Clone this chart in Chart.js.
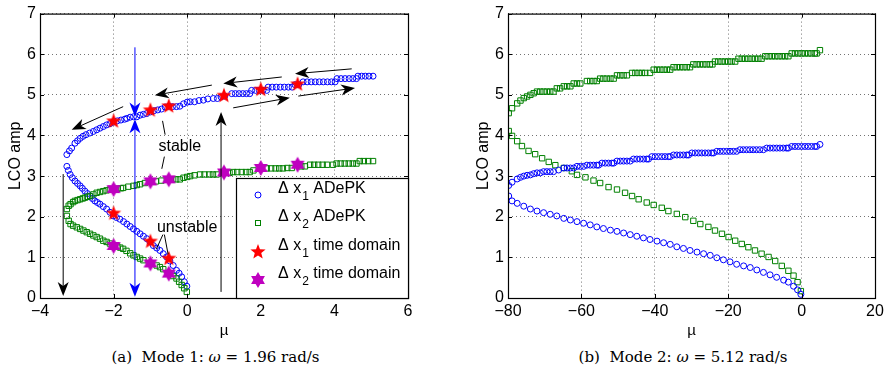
<!DOCTYPE html>
<html>
<head>
<meta charset="utf-8">
<script src="https://cdn.jsdelivr.net/npm/chart.js@4/dist/chart.umd.min.js"></script>
<style>
  body { margin: 0; background: #fff; width: 888px; height: 379px; position: relative; overflow: hidden; }
  .box { position: absolute; top: 0; height: 340px; }
  .cap { position: absolute; top: 348px; font: 15px 'DejaVu Serif', 'Liberation Serif', serif; line-height: 18px; text-align: center; white-space: nowrap; }
</style>
</head>
<body>
<div class="box" style="left:0;width:420px"><canvas id="modeA" width="420" height="340"></canvas></div>
<div class="box" style="left:440px;width:448px"><canvas id="modeB" width="448" height="340"></canvas></div>
<div class="cap" style="left:0;width:431px">(a)&nbsp; Mode 1: <i>ω</i> = 1.96 rad/s</div>
<div class="cap" style="left:455px;width:456px">(b)&nbsp; Mode 2: <i>ω</i> = 5.12 rad/s</div>
<script>
// ---- Mode 1 : ADePK, delta x1 (lower branch, upper branch)
const muX1aLow = [-0.01,-0.08,-0.15,-0.22,-0.29,-0.38,-0.47,-0.56,-0.65,-0.74,-0.83,-0.92,-1.01,-1.1,-1.19,-1.28,-1.37,-1.46,-1.55,-1.64,-1.73,-1.83,-1.92,-2.01,-2.1,-2.19,-2.28,-2.37,-2.44,-2.51,-2.58,-2.64,-2.71,-2.78,-2.85,-2.91,-2.98,-3.05,-3.12,-3.18,-3.23,-3.27];
const ampX1aLow = [0.29,0.40,0.52,0.61,0.68,0.80,0.91,1.01,1.09,1.17,1.23,1.29,1.38,1.46,1.52,1.58,1.64,1.70,1.76,1.82,1.88,1.94,1.98,2.02,2.11,2.19,2.25,2.31,2.35,2.39,2.45,2.51,2.57,2.63,2.70,2.76,2.82,2.88,2.96,3.04,3.14,3.24];
const muX1aUp = [-3.27,-3.2,-3.14,-3.05,-2.98,-2.91,-2.83,-2.75,-2.65,-2.55,-2.46,-2.37,-2.28,-2.19,-2.1,-2.01,-1.9,-1.8,-1.7,-1.64,-1.55,-1.46,-1.37,-1.28,-1.19,-1.1,-1.0,-0.9,-0.8,-0.7,-0.6,-0.5,-0.4,-0.29,-0.2,-0.1,0.0,0.08,0.2,0.32,0.44,0.56,0.71,0.82,0.92,1.02,1.21,1.31,1.41,1.51,1.61,1.7,1.75,1.86,1.96,2.06,2.16,2.2,2.31,2.42,2.53,2.64,2.75,2.85,2.93,3.03,3.15,3.26,3.37,3.48,3.59,3.7,3.81,3.92,4.02,4.07,4.18,4.29,4.4,4.5,4.6,4.64,4.74,4.84,4.94,5.05];
const ampX1aUp = [3.53,3.62,3.69,3.81,3.87,3.93,3.98,4.02,4.06,4.10,4.14,4.18,4.22,4.26,4.29,4.33,4.36,4.38,4.40,4.42,4.45,4.46,4.46,4.50,4.52,4.54,4.58,4.61,4.63,4.65,4.70,4.72,4.71,4.71,4.72,4.78,4.82,4.83,4.83,4.86,4.87,4.90,4.91,4.91,4.95,4.97,5.03,5.03,5.03,5.03,5.03,5.03,5.11,5.11,5.11,5.11,5.11,5.19,5.19,5.19,5.19,5.19,5.19,5.19,5.25,5.25,5.32,5.32,5.32,5.32,5.32,5.32,5.32,5.32,5.32,5.40,5.40,5.40,5.40,5.40,5.40,5.46,5.46,5.46,5.46,5.46];
// ---- Mode 1 : ADePK, delta x2
const muX2aLow = [-0.01,-0.08,-0.15,-0.22,-0.29,-0.38,-0.65,-0.74,-0.83,-1.19,-1.28,-1.37,-1.46,-1.55,-1.65,-1.74,-1.82,-1.9,-2.1,-2.19,-2.28,-2.37,-2.46,-2.55,-2.64,-2.73,-2.82,-2.91,-3.0,-3.1,-3.17,-3.22,-3.27];
const ampX2aLow = [0.15,0.24,0.32,0.40,0.48,0.54,0.71,0.76,0.80,0.93,0.97,1.01,1.05,1.10,1.16,1.21,1.24,1.27,1.34,1.38,1.41,1.46,1.50,1.54,1.58,1.62,1.66,1.70,1.74,1.78,1.82,1.90,2.02];
const muX2aUp = [-3.27,-3.22,-3.17,-3.1,-3.05,-2.98,-2.91,-2.84,-2.78,-2.71,-2.64,-2.55,-2.46,-2.37,-2.28,-2.19,-2.1,-1.9,-1.8,-1.74,-1.6,-1.46,-1.37,-1.28,-1.15,-0.85,-0.7,-0.4,-0.3,-0.2,-0.1,0.0,0.08,0.2,0.35,0.47,0.6,0.7,0.8,1.15,1.25,1.36,1.48,1.6,1.7,1.8,2.16,2.28,2.4,2.5,2.6,2.72,2.84,3.1,3.2,3.34,3.45,3.56,3.68,3.8,3.96,4.06,4.17,4.28,4.39,4.5,4.6,4.69,4.8,4.92,5.05];
const ampX2aUp = [2.19,2.27,2.31,2.36,2.39,2.41,2.43,2.45,2.47,2.49,2.51,2.55,2.59,2.61,2.63,2.65,2.67,2.69,2.70,2.71,2.74,2.76,2.78,2.80,2.83,2.87,2.89,2.92,2.92,2.92,2.96,2.98,3.00,3.02,3.04,3.04,3.04,3.04,3.04,3.08,3.10,3.10,3.10,3.10,3.10,3.14,3.19,3.19,3.19,3.19,3.19,3.20,3.20,3.24,3.24,3.28,3.28,3.28,3.28,3.28,3.28,3.31,3.31,3.31,3.31,3.31,3.31,3.37,3.37,3.37,3.37];
// ---- Mode 1 : time domain
const muX1t = [-2, -1, -0.5, 1, 2, 3, -2, -1, -0.5];
const ampX1t = [4.35, 4.62, 4.72, 4.98, 5.13, 5.26, 2.08, 1.39, 0.97];
const muX2t = [-2, -1, -0.5, 1, 2, 3, -2, -1, -0.5];
const ampX2t = [2.68, 2.87, 2.92, 3.09, 3.2, 3.28, 1.28, 0.85, 0.6];

// ---- Mode 2 : ADePK
const muX1bLow = [-79.8,-78.9,-77.5,-75.7,-73.9,-72.1,-70.3,-68.5,-66.7,-64.8,-63.0,-61.2,-59.4,-57.6,-55.8,-54.0,-52.1,-50.3,-48.5,-46.7,-44.9,-43.1,-41.3,-39.4,-37.6,-35.8,-34.0,-32.2,-30.4,-28.5,-26.7,-24.9,-23.1,-21.3,-19.5,-17.7,-15.8,-14.0,-12.2,-10.4,-8.6,-6.8,-4.9,-3.6,-2.2,-1.1,-0.2];
const ampX1bLow = [2.51,2.39,2.33,2.26,2.19,2.14,2.10,2.06,2.02,1.96,1.92,1.88,1.84,1.80,1.75,1.71,1.67,1.64,1.60,1.56,1.52,1.48,1.44,1.40,1.36,1.32,1.26,1.22,1.17,1.13,1.09,1.05,0.99,0.94,0.89,0.83,0.79,0.75,0.69,0.63,0.57,0.51,0.44,0.39,0.29,0.20,0.09];
const muX1bUp = [-79.8,-78.9,-77.5,-76.6,-75.7,-74.8,-73.9,-73.0,-72.1,-71.2,-70.3,-69.4,-68.5,-67.6,-66.2,-64.8,-63.9,-63.0,-62.1,-61.2,-60.3,-59.4,-58.5,-57.6,-56.7,-55.8,-55.3,-54.4,-53.5,-52.6,-51.7,-51.2,-50.3,-49.4,-48.5,-47.6,-46.7,-45.8,-44.9,-44.0,-43.1,-42.2,-41.7,-40.8,-39.9,-39.0,-38.1,-37.2,-36.3,-35.8,-34.9,-34.0,-33.1,-32.2,-31.3,-30.8,-29.9,-29.0,-28.1,-27.2,-26.3,-25.4,-24.5,-24.0,-23.1,-22.2,-21.3,-20.4,-19.5,-18.6,-17.7,-16.8,-15.9,-15.0,-14.1,-13.2,-12.3,-11.4,-10.4,-9.5,-8.6,-7.7,-6.8,-5.9,-5.0,-4.1,-3.6,-2.7,-1.8,-0.9,0.0,0.9,1.8,2.7,3.6,4.1,5.0];
const ampX1bUp = [2.77,2.85,2.93,2.97,3.00,3.02,3.03,3.06,3.08,3.08,3.11,3.11,3.11,3.11,3.15,3.20,3.20,3.20,3.20,3.24,3.24,3.24,3.27,3.27,3.27,3.27,3.27,3.32,3.32,3.32,3.32,3.32,3.37,3.37,3.37,3.37,3.37,3.42,3.42,3.42,3.42,3.42,3.42,3.48,3.48,3.48,3.48,3.48,3.48,3.48,3.52,3.52,3.52,3.52,3.52,3.52,3.57,3.57,3.57,3.57,3.57,3.57,3.57,3.57,3.61,3.61,3.61,3.61,3.61,3.61,3.61,3.65,3.65,3.65,3.65,3.65,3.65,3.65,3.65,3.69,3.69,3.69,3.69,3.69,3.69,3.69,3.69,3.73,3.73,3.73,3.73,3.73,3.73,3.73,3.73,3.73,3.78];
const muX2bLow = [-79.8,-78.9,-77.5,-76.2,-74.4,-72.6,-70.7,-68.9,-67.1,-64.8,-62.6,-61.2,-58.9,-56.7,-54.9,-52.6,-50.3,-48.1,-46.2,-44.4,-42.2,-40.3,-38.1,-36.3,-34.0,-31.7,-29.5,-27.6,-25.4,-23.6,-21.7,-19.9,-18.1,-16.3,-14.5,-12.7,-10.9,-9.0,-7.2,-5.4,-3.6,-2.2,-1.1,-0.2];
const ampX2bLow = [4.11,3.99,3.86,3.74,3.62,3.54,3.44,3.35,3.27,3.20,3.12,3.03,2.97,2.89,2.83,2.73,2.67,2.59,2.51,2.43,2.35,2.29,2.22,2.14,2.07,1.99,1.90,1.82,1.75,1.66,1.58,1.50,1.41,1.33,1.25,1.17,1.09,1.01,0.91,0.79,0.67,0.55,0.39,0.17];
const muX2bUp = [-79.8,-78.9,-77.5,-76.6,-75.7,-74.8,-73.9,-73.0,-72.1,-71.2,-70.3,-69.4,-68.5,-67.6,-66.7,-65.8,-64.8,-63.9,-63.0,-62.1,-61.2,-60.3,-58.5,-57.6,-56.7,-55.8,-54.9,-54.0,-53.1,-52.1,-51.2,-50.3,-49.4,-48.5,-47.6,-46.2,-45.3,-44.4,-43.5,-42.6,-41.3,-40.3,-39.4,-38.5,-37.6,-36.7,-35.8,-34.9,-34.0,-33.1,-32.2,-31.3,-30.4,-29.5,-28.6,-27.7,-26.8,-25.9,-25.0,-24.3,-23.6,-22.7,-21.8,-20.9,-20.0,-19.1,-18.1,-17.2,-16.3,-15.4,-14.5,-13.6,-12.7,-11.8,-10.9,-9.9,-9.0,-8.1,-7.2,-6.3,-5.4,-4.5,-3.6,-2.7,-1.8,-0.9,0.0,0.9,1.8,2.7,3.6,4.1,5.0];
const ampX2bUp = [4.55,4.67,4.79,4.86,4.92,4.96,5.00,5.04,5.08,5.08,5.08,5.08,5.08,5.08,5.16,5.16,5.21,5.21,5.21,5.28,5.28,5.28,5.34,5.34,5.34,5.34,5.40,5.40,5.40,5.40,5.40,5.48,5.48,5.48,5.48,5.54,5.54,5.54,5.54,5.54,5.54,5.62,5.62,5.62,5.62,5.62,5.62,5.68,5.68,5.68,5.68,5.68,5.68,5.75,5.75,5.75,5.75,5.75,5.75,5.75,5.82,5.82,5.82,5.82,5.82,5.82,5.82,5.89,5.89,5.89,5.89,5.89,5.89,5.89,5.89,5.95,5.95,5.95,5.95,5.95,5.95,5.95,5.95,6.02,6.02,6.02,6.02,6.02,6.02,6.02,6.02,6.02,6.10];

// legend texts (subscript index + description)
const legendSub = ['1', '2', '1', '2'];
const legendText = ['ADePK', 'ADePK', 'time domain', 'time domain'];

// annotation arrows of mode 1: [x1, y1, x2(tip), y2(tip), colour]
const arrowsA = [
  [-3.37, 3.05, -3.37, 0.05, '#000'],
  [0.92, 0.15, 0.92, 4.58, '#000'],
  [-1.74, 4.71, -3.14, 4.14, '#000'],
  [0.67, 5.24, -0.88, 4.99, '#000'],
  [2.57, 5.44, 0.98, 5.28, '#000'],
  [4.47, 5.64, 2.93, 5.52, '#000'],
  [1.25, 4.68, 2.79, 4.93, '#000'],
  [3.02, 4.97, 4.56, 5.17, '#000'],
  [-1.42, 6.17, -1.42, 4.47, '#0000ff'],
  [-1.42, 1.5, -1.42, 4.40, '#0000ff'],
  [-1.42, 1.5, -1.42, 0.03, '#0000ff']
];
const labelsA = [['stable', -0.2, 3.72], ['unstable', 0.0, 1.74]];
const leadersA = [
  [-0.67, 4.36, -0.6, 4.02], [-0.62, 3.48, -0.69, 3.18],
  [-0.66, 1.56, -0.84, 1.2], [-0.62, 1.56, -0.52, 1.08]
];

const FONT = "'Liberation Sans', Arial, sans-serif";
const BLUE = '#0000ff', GREEN = '#008000', RED = '#ff0000', MAG = '#bf00bf';

function pts(xs, ys) { return xs.map((x, i) => ({x: x, y: ys[i]})); }

function makeStar(n, rOut, rIn, color) {
  const c = document.createElement('canvas');
  const s = Math.ceil(rOut) * 2 + 2;
  c.width = s; c.height = s;
  const g = c.getContext('2d');
  g.translate(s / 2, s / 2);
  g.beginPath();
  for (let i = 0; i < 2 * n; i++) {
    const r = i % 2 ? rIn : rOut;
    const a = -Math.PI / 2 + i * Math.PI / n;
    g.lineTo(r * Math.cos(a), r * Math.sin(a));
  }
  g.closePath();
  g.fillStyle = color;
  g.fill();
  return c;
}
const pentagram = makeStar(5, 8, 3.4, RED);
const hexagram = makeStar(6, 8, 4.7, MAG);

function minus(v) { return v < 0 ? '\u2212' + Math.abs(v) : '' + v; }

function arrow(ctx, x1, y1, x2, y2, color) {
  const a = Math.atan2(y2 - y1, x2 - x1);
  const L = 14, W = 5.5, N = 4;
  ctx.save();
  ctx.strokeStyle = color; ctx.fillStyle = color; ctx.lineWidth = 1;
  ctx.beginPath();
  ctx.moveTo(x1, y1);
  ctx.lineTo(x2 - Math.cos(a) * (L - N), y2 - Math.sin(a) * (L - N));
  ctx.stroke();
  ctx.translate(x2, y2); ctx.rotate(a);
  ctx.beginPath();
  ctx.moveTo(0, 0); ctx.lineTo(-L, -W); ctx.lineTo(-L + N, 0); ctx.lineTo(-L, W);
  ctx.closePath(); ctx.fill();
  ctx.restore();
}

// box + inward tick marks like matlab
const frame = {
  id: 'frame',
  afterDatasetsDraw(chart) {
    const ctx = chart.ctx, ca = chart.chartArea, sx = chart.scales.x, sy = chart.scales.y;
    ctx.save();
    ctx.strokeStyle = '#000'; ctx.lineWidth = 1;
    ctx.beginPath();
    sx.ticks.forEach(t => {
      const x = Math.round(sx.getPixelForValue(t.value)) + 0.5;
      ctx.moveTo(x, ca.bottom); ctx.lineTo(x, ca.bottom - 4);
      ctx.moveTo(x, ca.top); ctx.lineTo(x, ca.top + 4);
    });
    sy.ticks.forEach(t => {
      const y = Math.round(sy.getPixelForValue(t.value)) + 0.5;
      ctx.moveTo(ca.left, y); ctx.lineTo(ca.left + 4, y);
      ctx.moveTo(ca.right, y); ctx.lineTo(ca.right - 4, y);
    });
    ctx.stroke();
    ctx.lineWidth = 1.2;
    ctx.strokeRect(ca.left + 0.5, ca.top + 0.5, ca.right - ca.left, ca.bottom - ca.top);
    ctx.restore();
  }
};

// arrows, labels and legend of mode 1
const notes = {
  id: 'notes',
  afterDraw(chart) {
    const ctx = chart.ctx, sx = chart.scales.x, sy = chart.scales.y, ca = chart.chartArea;
    const X = v => sx.getPixelForValue(v), Y = v => sy.getPixelForValue(v);
    arrowsA.forEach(a => arrow(ctx, X(a[0]), Y(a[1]), X(a[2]), Y(a[3]), a[4]));
    ctx.save();
    ctx.strokeStyle = '#000'; ctx.lineWidth = 1;
    leadersA.forEach(l => {
      ctx.beginPath(); ctx.moveTo(X(l[0]), Y(l[1])); ctx.lineTo(X(l[2]), Y(l[3])); ctx.stroke();
    });
    ctx.fillStyle = '#000';
    ctx.font = '16px ' + FONT;
    ctx.textAlign = 'center'; ctx.textBaseline = 'middle';
    labelsA.forEach(l => ctx.fillText(l[0], X(l[1]), Y(l[2])));

    // legend
    const w = 172, h = 120, L = ca.right - w, T = ca.bottom - h;
    ctx.fillStyle = '#fff';
    ctx.fillRect(L, T, w, h);
    ctx.strokeStyle = '#000'; ctx.lineWidth = 1.2;
    ctx.strokeRect(L + 0.5, T + 0.5, w, h);
    ctx.textAlign = 'left'; ctx.textBaseline = 'alphabetic';
    const rows = [17, 45, 74, 102];
    chart.data.datasets.forEach((ds, i) => {
      const my = T + rows[i], mx = L + 22;
      if (i === 0) {
        ctx.beginPath(); ctx.arc(mx, my, 3, 0, Math.PI * 2);
        ctx.strokeStyle = BLUE; ctx.lineWidth = 1; ctx.stroke();
      } else if (i === 1) {
        ctx.strokeStyle = GREEN; ctx.lineWidth = 1; ctx.strokeRect(mx - 2.5, my - 2.5, 5, 5);
      } else {
        const img = i === 2 ? pentagram : hexagram;
        ctx.drawImage(img, mx - img.width / 2, my - img.height / 2);
      }
      let tx = L + 42;
      const base = my - 2;
      ctx.fillStyle = '#000';
      ctx.font = '16px ' + FONT;
      ctx.fillText('\u0394 x', tx, base);
      tx += ctx.measureText('\u0394 x').width + 1;
      ctx.font = '12px ' + FONT;
      ctx.fillText(legendSub[i], tx, base + 7);
      tx += ctx.measureText(legendSub[i]).width;
      ctx.font = '16px ' + FONT;
      ctx.fillText(' ' + legendText[i], tx, base);
    });
    ctx.restore();
  }
};

function scales(xmin, xmax, xstep, yw, ytitlePad) {
  const grid = { color: 'rgba(0,0,0,0.55)', drawTicks: false };
  return {
    x: {
      type: 'linear', min: xmin, max: xmax,
      grid: grid, border: { display: false, dash: [1, 3] },
      ticks: { stepSize: xstep, autoSkip: false, maxRotation: 0, padding: 4, color: '#000',
               font: { family: FONT, size: 16 }, callback: minus },
      title: { display: true, text: '\u00b5', color: '#000', padding: { top: 0, bottom: 0 },
               font: { family: FONT, size: 15 } },
      afterFit: s => { s.height = 42; }
    },
    y: {
      type: 'linear', min: 0, max: 7,
      grid: grid, border: { display: false, dash: [1, 3] },
      ticks: { stepSize: 1, padding: 4, color: '#000', font: { family: FONT, size: 16 }, callback: minus },
      title: { display: true, text: 'LCO amp', color: '#000', padding: { top: ytitlePad, bottom: 0 },
               font: { family: FONT, size: 16 } },
      afterFit: s => { s.width = yw; }
    }
  };
}

function common(xmin, xmax, xstep, yw, ytitlePad, pad) {
  return {
    responsive: false, animation: false, devicePixelRatio: 1,
    layout: { padding: pad },
    plugins: { legend: { display: false }, tooltip: { enabled: false } },
    scales: scales(xmin, xmax, xstep, yw, ytitlePad)
  };
}

new Chart(document.getElementById('modeA'), {
  type: 'scatter',
  data: {
    datasets: [
      { label: '\u0394 x1 ADePK', data: pts(muX1aLow.concat(muX1aUp), ampX1aLow.concat(ampX1aUp)),
        pointStyle: 'circle', pointRadius: 3, borderWidth: 1, borderColor: BLUE, backgroundColor: 'transparent', order: 3 },
      { label: '\u0394 x2 ADePK', data: pts(muX2aLow.concat(muX2aUp), ampX2aLow.concat(ampX2aUp)),
        pointStyle: 'rect', pointRadius: 3.8, borderWidth: 1, borderColor: GREEN, backgroundColor: 'transparent', order: 2 },
      { label: '\u0394 x1 time domain', data: pts(muX1t, ampX1t), pointStyle: pentagram, order: 1 },
      { label: '\u0394 x2 time domain', data: pts(muX2t, ampX2t), pointStyle: hexagram, order: 0 }
    ]
  },
  options: common(-4, 6, 2, 40, 6, { top: 11, right: 12, left: 0, bottom: 0 }),
  plugins: [frame, notes]
});

new Chart(document.getElementById('modeB'), {
  type: 'scatter',
  data: {
    datasets: [
      { label: '\u0394 x1 ADePK', data: pts(muX1bLow.concat(muX1bUp), ampX1bLow.concat(ampX1bUp)),
        pointStyle: 'circle', pointRadius: 3, borderWidth: 1, borderColor: BLUE, backgroundColor: 'transparent' },
      { label: '\u0394 x2 ADePK', data: pts(muX2bLow.concat(muX2bUp), ampX2bLow.concat(ampX2bUp)),
        pointStyle: 'rect', pointRadius: 3.8, borderWidth: 1, borderColor: GREEN, backgroundColor: 'transparent' }
    ]
  },
  options: common(-80, 20, 20, 68, 34, { top: 10, right: 13, left: 0, bottom: 0 }),
  plugins: [frame]
});
</script>
</body>
</html>
